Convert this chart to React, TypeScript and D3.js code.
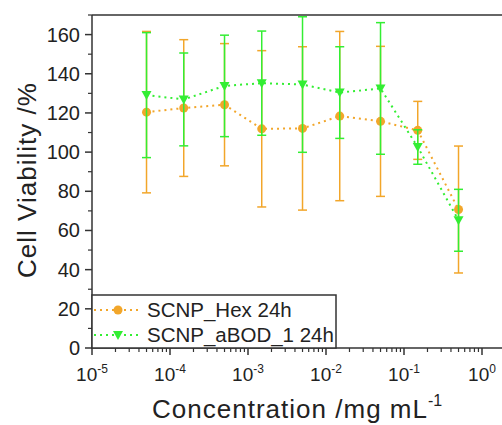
import React from "react";
import * as d3 from "d3";

const concentrations = [5e-5, 1.5e-4, 5e-4, 1.5e-3, 5e-3, 1.5e-2, 5e-2, 1.5e-1, 5e-1];
const hexMean = [120.4, 122.5, 124.2, 111.9, 112.1, 118.4, 115.7, 111.1, 70.7];
const hexSD = [41.2, 34.9, 31.2, 39.9, 41.7, 43.2, 38.3, 14.8, 32.4];
const abodMean = [129.1, 126.9, 133.8, 135.2, 134.5, 130.4, 132.5, 102.6, 65.2];
const abodSD = [31.9, 23.7, 25.9, 26.6, 34.6, 23.4, 33.6, 8.8, 15.8];
const seriesNames = ["SCNP_Hex 24h", "SCNP_aBOD_1 24h"];
const yTicks = [0, 20, 40, 60, 80, 100, 120, 140, 160];
const xDecades = [-5, -4, -3, -2, -1, 0];

const ORANGE = "#F2A62A";
const GREEN = "#33EE33";
const AXIS = "#333";
const FONT = "'Liberation Sans', Arial, sans-serif";

export default function App() {
  const W = 502, H = 425;
  const left = 92, right = 502, top = 15, bottom = 348;
  const x = d3.scaleLog().domain([1e-5, Math.pow(10, 0.2564)]).range([left, right]);
  const y = d3.scaleLinear().domain([0, 170]).range([bottom, top]);

  const series = [
    { mean: hexMean, sd: hexSD, color: ORANGE, marker: "circle" },
    { mean: abodMean, sd: abodSD, color: GREEN, marker: "tri" },
  ];

  const line = d3.line<number>()
    .x((_, i) => x(concentrations[i]))
    .y((d) => y(d));

  const minorX: number[] = [];
  for (let e = -5; e <= 0; e++) {
    for (let m = 2; m <= 9; m++) {
      const v = m * Math.pow(10, e);
      if (x(v) <= right) minorX.push(v);
    }
  }
  const minorY = d3.range(10, 171, 20);

  const marker = (kind: string, cx: number, cy: number, color: string, key: any) =>
    kind === "circle" ? (
      <circle key={key} cx={cx} cy={cy} r={4.5} fill={color} />
    ) : (
      <path key={key} d={`M${cx - 5},${cy - 4} L${cx + 5},${cy - 4} L${cx},${cy + 5} Z`} fill={color} />
    );

  return (
    <svg width={W} height={H} style={{ position: "absolute", left: 0, top: 0, background: "#fff", fontFamily: FONT }}>
      <defs>
        <clipPath id="plot">
          <rect x={left} y={top} width={right - left} height={bottom - top} />
        </clipPath>
      </defs>

      {/* series */}
      <g clipPath="url(#plot)">
        {series.map((s, si) => (
          <g key={si}>
            <path d={line(s.mean) || ""} fill="none" stroke={s.color} strokeWidth={2} strokeDasharray="2,4" />
            {s.mean.map((m, i) => {
              const cx = x(concentrations[i]);
              const y1 = y(m + s.sd[i]);
              const y2 = y(m - s.sd[i]);
              return (
                <g key={i} stroke={s.color} strokeWidth={1.5}>
                  <line x1={cx} x2={cx} y1={y1} y2={y2} />
                  <line x1={cx - 4.5} x2={cx + 4.5} y1={y1} y2={y1} />
                  <line x1={cx - 4.5} x2={cx + 4.5} y1={y2} y2={y2} />
                </g>
              );
            })}
            {s.mean.map((m, i) => marker(s.marker, x(concentrations[i]), y(m), s.color, "m" + i))}
          </g>
        ))}
      </g>

      {/* axes frame */}
      <line x1={left} x2={right} y1={top} y2={top} stroke={AXIS} strokeWidth={1.5} />
      <line x1={left} x2={left} y1={top} y2={bottom} stroke={AXIS} strokeWidth={1.5} />
      <line x1={left - 0.75} x2={right} y1={bottom} y2={bottom} stroke={AXIS} strokeWidth={1.5} />

      {/* y ticks */}
      {yTicks.map((t) => (
        <g key={t}>
          <line x1={left - 7} x2={left} y1={y(t)} y2={y(t)} stroke={AXIS} strokeWidth={1.5} />
          <text x={left - 12} y={y(t) + 7} textAnchor="end" fontSize={20} fill="#222">{t}</text>
        </g>
      ))}
      {minorY.map((t) => (
        <line key={t} x1={left - 4} x2={left} y1={y(t)} y2={y(t)} stroke={AXIS} strokeWidth={1.2} />
      ))}

      {/* x ticks */}
      {xDecades.map((e) => {
        const px = x(Math.pow(10, e));
        return (
          <g key={e}>
            <line x1={px} x2={px} y1={bottom} y2={bottom + 7} stroke={AXIS} strokeWidth={1.5} />
            <text x={px} y={381} textAnchor="middle" fontSize={19} fill="#222">
              10<tspan fontSize={12} dy={-8}>{e}</tspan>
            </text>
          </g>
        );
      })}
      {minorX.map((v, i) => (
        <line key={i} x1={x(v)} x2={x(v)} y1={bottom} y2={bottom + 4} stroke={AXIS} strokeWidth={1.2} />
      ))}

      {/* axis titles */}
      <text x={27} y={180.5} transform="rotate(-90 27 180.5)" textAnchor="middle" dominantBaseline="central"
        fontSize={26} fill="#222" textLength={195} lengthAdjust="spacing">
        Cell Viability /%
      </text>
      <text x={152} y={418} fontSize={26} fill="#222" textLength={275} lengthAdjust="spacing">
        Concentration /mg mL
      </text>
      <text x={428} y={406} fontSize={16} fill="#222">-1</text>

      {/* legend */}
      <rect x={left} y={295} width={244} height={bottom - 295} fill="#fff" stroke={AXIS} strokeWidth={1.5} />
      {series.map((s, si) => {
        const ly = 310 + si * 25;
        return (
          <g key={si}>
            <line x1={left + 2} x2={142} y1={ly} y2={ly} stroke={s.color} strokeWidth={2} strokeDasharray="2,4" />
            {marker(s.marker, 118, ly, s.color, "lm")}
            <text x={147} y={ly + 7} fontSize={20.5} fill="#222">{seriesNames[si]}</text>
          </g>
        );
      })}
    </svg>
  );
}
